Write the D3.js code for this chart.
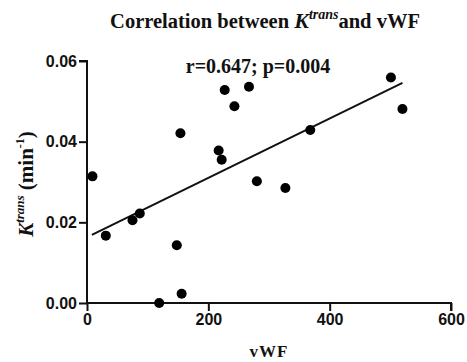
<html>
<head>
<meta charset="utf-8">
<script src="https://d3js.org/d3.v7.min.js"></script>
<style>
  body { margin: 0; background: #fff; }
  text { fill: #111; }
</style>
</head>
<body>
<svg class="chart"></svg>
<script>
// vWF vs Ktrans
var vwf    = [9, 31, 75, 87, 119, 148, 154, 156, 217, 222, 227, 243, 267, 280, 327, 368, 501, 520];
var ktrans = [0.0314, 0.0167, 0.0205, 0.0222, 0.0000, 0.0143, 0.0421, 0.0023, 0.0378, 0.0355, 0.0528, 0.0488, 0.0536, 0.0302, 0.0285, 0.0429, 0.0559, 0.0481];
var fitX = [8, 520];
var fitY = [0.0169, 0.0546];
var xTicks = [0, 200, 400, 600];
var yTicks = [0, 0.02, 0.04, 0.06];

var W = 467, H = 362;
var svg = d3.select('.chart').attr('width', W).attr('height', H);

var x = d3.scaleLinear().domain([0, 600]).range([87, 451]);
var y = d3.scaleLinear().domain([0, 0.06]).range([303, 61]);

var serif = "'Liberation Serif', 'Times New Roman', serif";
var sans = "'Liberation Sans', Arial, sans-serif";

// axes
var xAxis = svg.append('g')
    .attr('transform', 'translate(0,' + y(0) + ')')
    .call(d3.axisBottom(x).tickValues(xTicks).tickSize(8).tickPadding(3).tickFormat(d3.format('d')));
var yAxis = svg.append('g')
    .attr('transform', 'translate(' + x(0) + ',0)')
    .call(d3.axisLeft(y).tickValues(yTicks).tickSize(8).tickPadding(2).tickFormat(d3.format('.2f')));

[xAxis, yAxis].forEach(function(a) {
    a.select('.domain').attr('stroke', '#111').attr('stroke-width', 2);
    a.selectAll('.tick line').attr('stroke', '#111').attr('stroke-width', 2);
    a.selectAll('.tick text')
        .style('font-family', sans)
        .style('font-weight', 'bold')
        .style('font-size', '16px')
        .attr('fill', '#111');
});
// plain axis lines without end caps
xAxis.select('.domain').attr('d', 'M' + x(0) + ',0H' + x(600) + 'V8');
yAxis.select('.domain').attr('d', 'M-8,' + y(0.06) + 'H0V' + y(0));

// regression line
svg.append('line')
    .attr('x1', x(fitX[0])).attr('y1', y(fitY[0]))
    .attr('x2', x(fitX[1])).attr('y2', y(fitY[1]))
    .attr('stroke', '#111').attr('stroke-width', 2);

// points
svg.selectAll('circle.pt')
    .data(vwf)
    .enter().append('circle')
    .attr('class', 'pt')
    .attr('cx', function(d) { return x(d); })
    .attr('cy', function(d, i) { return y(ktrans[i]); })
    .attr('r', 5)
    .attr('fill', '#000');

// title
var title = svg.append('text')
    .attr('x', 265).attr('y', 28)
    .attr('text-anchor', 'middle')
    .style('font-family', serif)
    .style('font-weight', 'bold')
    .style('font-size', '20.5px');
title.append('tspan').text('Correlation between ');
title.append('tspan').style('font-style', 'italic').style('font-size', '22px').text('K');
title.append('tspan').style('font-style', 'italic').style('font-size', '14px').attr('dy', -9).text('trans');
title.append('tspan').attr('dy', 9).text('and vWF');

// r, p
svg.append('text')
    .attr('x', 258).attr('y', 73)
    .attr('text-anchor', 'middle')
    .style('font-family', serif)
    .style('font-weight', 'bold')
    .style('font-size', '20px')
    .text('r=0.647; p=0.004');

// x label
svg.append('text')
    .attr('x', 269).attr('y', 357)
    .attr('text-anchor', 'middle')
    .style('font-family', serif)
    .style('font-weight', 'bold')
    .style('font-size', '17px')
    .style('letter-spacing', '1px')
    .text('vWF');

// y label
var ylab = svg.append('text')
    .attr('transform', 'translate(33,184) rotate(-90)')
    .attr('text-anchor', 'middle')
    .style('font-family', serif)
    .style('font-weight', 'bold')
    .style('font-size', '21px');
ylab.append('tspan').style('font-style', 'italic').text('K');
ylab.append('tspan').style('font-style', 'italic').style('font-size', '13px').attr('dy', -9).text('trans');
ylab.append('tspan').attr('dy', 9).text(' (min');
ylab.append('tspan').style('font-size', '12px').attr('dy', -9).text('-1');
ylab.append('tspan').attr('dy', 9).text(')');
</script>
</body>
</html>
